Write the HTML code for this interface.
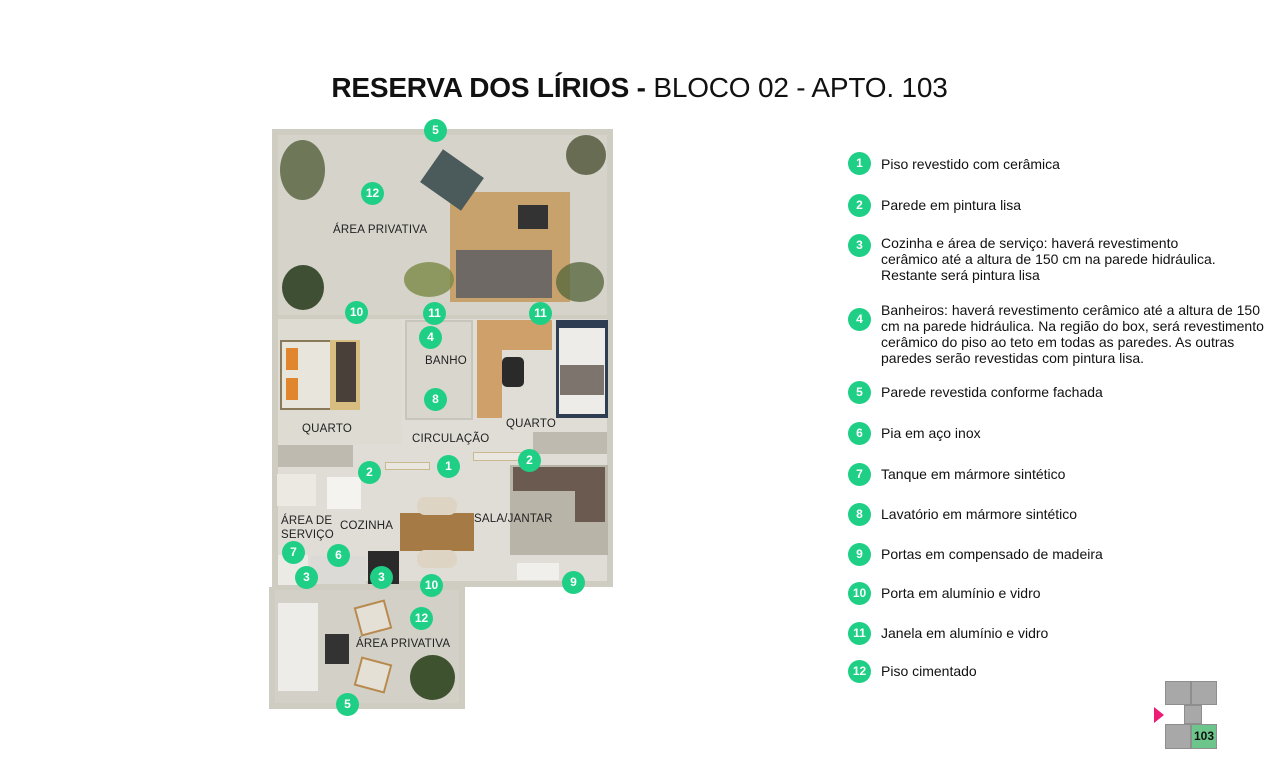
<!DOCTYPE html>
<html><head><meta charset="utf-8"><style>
*{margin:0;padding:0;box-sizing:border-box}
body{width:1279px;height:767px;background:#fff;position:relative;overflow:hidden;font-family:"Liberation Sans",sans-serif;color:#111}
.a{position:absolute}
.c{position:absolute;width:23px;height:23px;border-radius:50%;background:#1fcf86;color:#fff;font-weight:bold;font-size:12px;line-height:23px;text-align:center}
.lb{position:absolute;font-size:11.5px;color:#222;letter-spacing:.2px}
.lg{position:absolute;left:881px;font-size:14px;line-height:16px;color:#111}
</style></head><body>
<div class="a" style="left:0;top:70px;width:1279px;text-align:center;font-size:28px;line-height:36px;letter-spacing:-0.2px"><b>RESERVA DOS LÍRIOS -</b> BLOCO 02 - APTO. 103</div>

<!-- plan -->
<div class="a" style="left:272px;top:129px;width:341px;height:458px;background:#cfccc2"></div>
<div class="a" style="left:278px;top:135px;width:329px;height:180px;background:#d6d3cb"></div>
<div class="a" style="left:450px;top:192px;width:120px;height:110px;background:#c8a26c"></div>
<div class="a" style="left:427px;top:160px;width:50px;height:40px;background:#4b5a5a;transform:rotate(35deg)"></div>
<div class="a" style="left:518px;top:205px;width:30px;height:24px;background:#333"></div>
<div class="a" style="left:456px;top:250px;width:96px;height:48px;background:#6e6964"></div>
<div class="a" style="left:280px;top:140px;width:45px;height:60px;background:#55603c;border-radius:50%;opacity:.8"></div>
<div class="a" style="left:282px;top:265px;width:42px;height:45px;background:#3f4f33;border-radius:50%"></div>
<div class="a" style="left:566px;top:135px;width:40px;height:40px;background:#4b5334;border-radius:50%;opacity:.8"></div>
<div class="a" style="left:556px;top:262px;width:48px;height:40px;background:#5a6a40;border-radius:50%;opacity:.8"></div>
<div class="a" style="left:404px;top:262px;width:50px;height:35px;background:#7a8a46;border-radius:50%;opacity:.8"></div>
<!-- interior -->
<div class="a" style="left:278px;top:319px;width:329px;height:262px;background:#e0ddd6"></div>
<div class="a" style="left:278px;top:319px;width:124px;height:125px;background:#dedbd3"></div>
<div class="a" style="left:280px;top:340px;width:80px;height:70px;background:#e8e5dd;border:2px solid #8a7a5a"></div>
<div class="a" style="left:330px;top:340px;width:30px;height:70px;background:#d8bd80"></div>
<div class="a" style="left:336px;top:342px;width:20px;height:60px;background:#4a403a"></div>
<div class="a" style="left:286px;top:348px;width:12px;height:22px;background:#e0862e"></div>
<div class="a" style="left:286px;top:378px;width:12px;height:22px;background:#e0862e"></div>
<div class="a" style="left:405px;top:320px;width:68px;height:100px;background:#d9d6ce;border:2px solid #c8c5bc"></div>
<div class="a" style="left:477px;top:320px;width:75px;height:30px;background:#cfa06a"></div>
<div class="a" style="left:477px;top:320px;width:25px;height:98px;background:#cfa06a"></div>
<div class="a" style="left:502px;top:357px;width:22px;height:30px;background:#2a2a2a;border-radius:5px"></div>
<div class="a" style="left:556px;top:320px;width:52px;height:98px;background:#2f3d52"></div>
<div class="a" style="left:559px;top:328px;width:46px;height:86px;background:#eeece8"></div>
<div class="a" style="left:560px;top:365px;width:44px;height:30px;background:#7d756d"></div>
<!-- shelves -->
<div class="a" style="left:278px;top:445px;width:75px;height:22px;background:#bfbab0"></div>
<div class="a" style="left:533px;top:432px;width:74px;height:22px;background:#bfbab0"></div>
<div class="a" style="left:385px;top:462px;width:45px;height:8px;background:#eae7e0;border:1px solid #c9b98f"></div>
<div class="a" style="left:473px;top:452px;width:50px;height:9px;background:#eae7e0;border:1px solid #c9b98f"></div>
<!-- living -->
<div class="a" style="left:510px;top:465px;width:98px;height:90px;background:#b9b4a8"></div>
<div class="a" style="left:513px;top:467px;width:92px;height:24px;background:#6a5a50"></div>
<div class="a" style="left:575px;top:467px;width:30px;height:55px;background:#6a5a50"></div>
<div class="a" style="left:400px;top:513px;width:74px;height:38px;background:#a57a45"></div>
<div class="a" style="left:417px;top:497px;width:40px;height:18px;background:#ddd4c4;border-radius:8px"></div>
<div class="a" style="left:417px;top:550px;width:40px;height:18px;background:#ddd4c4;border-radius:8px"></div>
<div class="a" style="left:517px;top:563px;width:42px;height:17px;background:#f0efeb"></div>
<!-- kitchen -->
<div class="a" style="left:277px;top:474px;width:39px;height:32px;background:#ece9e2"></div>
<div class="a" style="left:327px;top:477px;width:34px;height:32px;background:#f4f3f0"></div>
<div class="a" style="left:311px;top:556px;width:55px;height:28px;background:#dcdad6"></div>
<div class="a" style="left:368px;top:551px;width:31px;height:33px;background:#2a2a2a"></div>
<div class="a" style="left:278px;top:555px;width:30px;height:30px;background:#eceae5"></div>
<!-- bottom terrace -->
<div class="a" style="left:269px;top:587px;width:196px;height:122px;background:#cfccc2"></div>
<div class="a" style="left:275px;top:590px;width:184px;height:113px;background:#d3d0c7"></div>
<div class="a" style="left:278px;top:603px;width:40px;height:88px;background:#eeece8"></div>
<div class="a" style="left:325px;top:634px;width:24px;height:30px;background:#333"></div>
<div class="a" style="left:357px;top:603px;width:32px;height:30px;background:#e4e0d6;border:2px solid #b88a50;transform:rotate(-15deg)"></div>
<div class="a" style="left:357px;top:660px;width:32px;height:30px;background:#e4e0d6;border:2px solid #b88a50;transform:rotate(15deg)"></div>
<div class="a" style="left:410px;top:655px;width:45px;height:45px;background:#3f5230;border-radius:50%"></div>

<div class="lb" style="left:333px;top:224px">ÁREA PRIVATIVA</div>
<div class="lb" style="left:425px;top:355px">BANHO</div>
<div class="lb" style="left:302px;top:423px">QUARTO</div>
<div class="lb" style="left:506px;top:418px">QUARTO</div>
<div class="lb" style="left:412px;top:433px">CIRCULAÇÃO</div>
<div class="lb" style="left:281px;top:514px;line-height:14px">ÁREA DE<br>SERVIÇO</div>
<div class="lb" style="left:340px;top:520px">COZINHA</div>
<div class="lb" style="left:474px;top:513px">SALA/JANTAR</div>
<div class="lb" style="left:356px;top:638px">ÁREA PRIVATIVA</div>

<div class="c" style="left:424px;top:119px">5</div>
<div class="c" style="left:361px;top:182px">12</div>
<div class="c" style="left:345px;top:301px">10</div>
<div class="c" style="left:423px;top:302px">11</div>
<div class="c" style="left:529px;top:302px">11</div>
<div class="c" style="left:419px;top:326px">4</div>
<div class="c" style="left:424px;top:388px">8</div>
<div class="c" style="left:358px;top:461px">2</div>
<div class="c" style="left:437px;top:455px">1</div>
<div class="c" style="left:518px;top:449px">2</div>
<div class="c" style="left:282px;top:541px">7</div>
<div class="c" style="left:327px;top:544px">6</div>
<div class="c" style="left:295px;top:566px">3</div>
<div class="c" style="left:370px;top:566px">3</div>
<div class="c" style="left:420px;top:574px">10</div>
<div class="c" style="left:562px;top:571px">9</div>
<div class="c" style="left:410px;top:607px">12</div>
<div class="c" style="left:336px;top:693px">5</div>

<!-- legend -->
<div class="c" style="left:848px;top:152px">1</div><div class="lg" style="top:156px">Piso revestido com cerâmica</div>
<div class="c" style="left:848px;top:194px">2</div><div class="lg" style="top:197px">Parede em pintura lisa</div>
<div class="c" style="left:848px;top:234px">3</div><div class="lg" style="top:235px">Cozinha e área de serviço: haverá revestimento<br>cerâmico até a altura de 150 cm na parede hidráulica.<br>Restante será pintura lisa</div>
<div class="c" style="left:848px;top:308px">4</div><div class="lg" style="top:302px">Banheiros: haverá revestimento cerâmico até a altura de 150<br>cm na parede hidráulica. Na região do box, será revestimento<br>cerâmico do piso ao teto em todas as paredes. As outras<br>paredes serão revestidas com pintura lisa.</div>
<div class="c" style="left:848px;top:381px">5</div><div class="lg" style="top:384px">Parede revestida conforme fachada</div>
<div class="c" style="left:848px;top:422px">6</div><div class="lg" style="top:425px">Pia em aço inox</div>
<div class="c" style="left:848px;top:463px">7</div><div class="lg" style="top:466px">Tanque em mármore sintético</div>
<div class="c" style="left:848px;top:503px">8</div><div class="lg" style="top:506px">Lavatório em mármore sintético</div>
<div class="c" style="left:848px;top:543px">9</div><div class="lg" style="top:546px">Portas em compensado de madeira</div>
<div class="c" style="left:848px;top:582px">10</div><div class="lg" style="top:585px">Porta em alumínio e vidro</div>
<div class="c" style="left:848px;top:622px">11</div><div class="lg" style="top:625px">Janela em alumínio e vidro</div>
<div class="c" style="left:848px;top:660px">12</div><div class="lg" style="top:663px">Piso cimentado</div>

<!-- mini map -->
<div class="a" style="left:1165px;top:681px;width:26px;height:24px;background:#a8a8a8;border:1px solid #8e8e8e"></div>
<div class="a" style="left:1191px;top:681px;width:26px;height:24px;background:#a8a8a8;border:1px solid #8e8e8e"></div>
<div class="a" style="left:1184px;top:705px;width:18px;height:19px;background:#a8a8a8;border:1px solid #8e8e8e"></div>
<div class="a" style="left:1165px;top:724px;width:26px;height:25px;background:#a8a8a8;border:1px solid #8e8e8e"></div>
<div class="a" style="left:1191px;top:724px;width:26px;height:25px;background:#6cc58a;border:1px solid #8e8e8e;font-size:12px;font-weight:bold;text-align:center;line-height:23px">103</div>
<div class="a" style="left:1154px;top:707px;width:0;height:0;border-top:8px solid transparent;border-bottom:8px solid transparent;border-left:10px solid #ee1c74"></div>
</body></html>
